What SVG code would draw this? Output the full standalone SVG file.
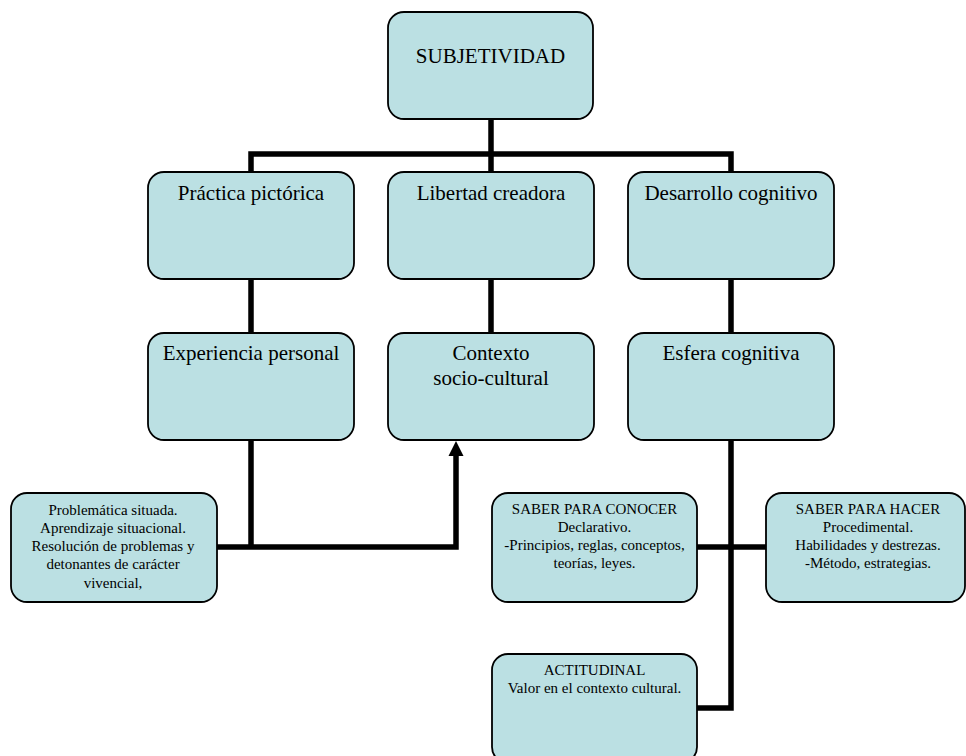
<svg xmlns="http://www.w3.org/2000/svg" width="966" height="756" viewBox="0 0 966 756">
<style>
.box{fill:#BBE0E3;stroke:#000;stroke-width:1.8}
.t{font-family:"Liberation Serif","Times New Roman",serif;font-size:21px;fill:#000;text-anchor:middle}
.s{font-family:"Liberation Serif","Times New Roman",serif;font-size:15px;fill:#000;text-anchor:middle}
.c{fill:none;stroke:#000;stroke-width:5.5;stroke-linejoin:miter}
</style>
<rect width="966" height="756" fill="#fff"/>
<g id="connectors">
<path class="c" d="M491 119 V172"/>
<path class="c" d="M251 172 V154 H731 V172"/>
<path class="c" d="M251 279 V333 M491 279 V333 M731 279 V333"/>
<path class="c" d="M251 440 V547"/>
<path class="c" d="M217 547 H456 V454"/>
<polygon points="456,441 448.5,456 463.5,456" fill="#000"/>
<path class="c" d="M731 440 V708 H697"/>
<path class="c" d="M697 547 H766"/>
</g>
<g id="subjetividad">
<rect class="box" x="388" y="12" width="205" height="107" rx="16"/>
<text class="t" x="490.5" y="63">SUBJETIVIDAD</text>
</g>
<g id="practica">
<rect class="box" x="148" y="172" width="206" height="107" rx="16"/>
<text class="t" x="251" y="200">Práctica pictórica</text>
</g>
<g id="libertad">
<rect class="box" x="388" y="172" width="206" height="107" rx="16"/>
<text class="t" x="491" y="200">Libertad creadora</text>
</g>
<g id="desarrollo">
<rect class="box" x="628" y="172" width="206" height="107" rx="16"/>
<text class="t" x="731" y="200">Desarrollo cognitivo</text>
</g>
<g id="experiencia">
<rect class="box" x="148" y="333" width="206" height="107" rx="16"/>
<text class="t" x="251" y="360">Experiencia personal</text>
</g>
<g id="contexto">
<rect class="box" x="388" y="333" width="206" height="107" rx="16"/>
<text class="t" x="491" y="360">Contexto</text>
<text class="t" x="491" y="385">socio-cultural</text>
</g>
<g id="esfera">
<rect class="box" x="628" y="333" width="206" height="107" rx="16"/>
<text class="t" x="731" y="360">Esfera cognitiva</text>
</g>
<g id="problematica">
<rect class="box" x="11" y="493" width="206" height="109" rx="16"/>
<text class="s" x="113" y="515">Problemática situada.</text>
<text class="s" x="113" y="533">Aprendizaje situacional.</text>
<text class="s" x="113" y="551">Resolución de problemas y</text>
<text class="s" x="113" y="569">detonantes de carácter</text>
<text class="s" x="113" y="588">vivencial,</text>
</g>
<g id="conocer">
<rect class="box" x="492" y="493" width="205" height="109" rx="16"/>
<text class="s" x="594.5" y="514">SABER PARA CONOCER</text>
<text class="s" x="594.5" y="532">Declarativo.</text>
<text class="s" x="594.5" y="550">-Principios, reglas, conceptos,</text>
<text class="s" x="594.5" y="568">teorías, leyes.</text>
</g>
<g id="hacer">
<rect class="box" x="766" y="493" width="199" height="109" rx="16"/>
<text class="s" x="868" y="514">SABER PARA HACER</text>
<text class="s" x="868" y="532">Procedimental.</text>
<text class="s" x="868" y="550">Habilidades y destrezas.</text>
<text class="s" x="868" y="568">-Método, estrategias.</text>
</g>
<g id="actitudinal">
<rect class="box" x="492" y="654" width="205" height="109" rx="16"/>
<text class="s" x="594.5" y="675">ACTITUDINAL</text>
<text class="s" x="594.5" y="693">Valor en el contexto cultural.</text>
</g>
</svg>
